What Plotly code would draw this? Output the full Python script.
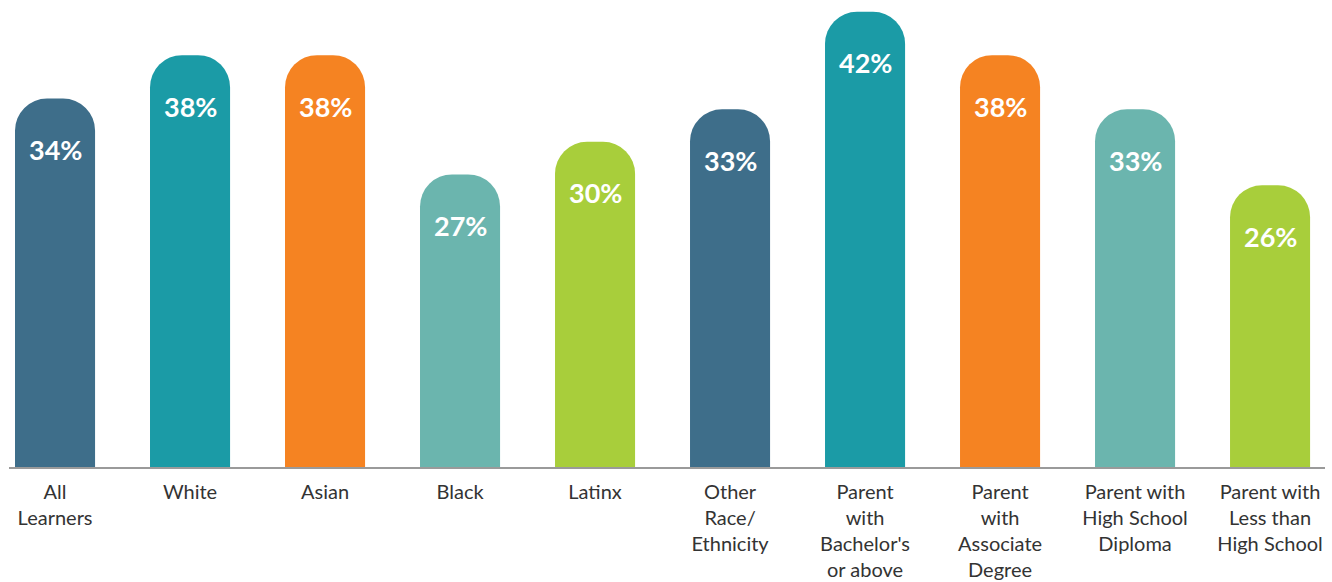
import plotly.graph_objects as go

categories = ["All<br>Learners", "White", "Asian", "Black", "Latinx",
              "Other<br>Race/<br>Ethnicity", "Parent<br>with<br>Bachelor's<br>or above",
              "Parent<br>with<br>Associate<br>Degree", "Parent with<br>High School<br>Diploma",
              "Parent with<br>Less than<br>High School"]
values = [34, 38, 38, 27, 30, 33, 42, 38, 33, 26]
labels = ["34%", "38%", "38%", "27%", "30%", "33%", "42%", "38%", "33%", "26%"]
colors = ["#3e6e8a", "#1b9ba6", "#f58322", "#6bb5ae", "#a8ce3b",
          "#3e6e8a", "#1b9ba6", "#f58322", "#6bb5ae", "#a8ce3b"]

fig = go.Figure()
fig.add_trace(go.Bar(
    x=list(range(len(categories))), y=values,
    marker=dict(color=colors, cornerradius=32, line=dict(width=0)),
    hoverinfo="skip",
))

for i, (v, t) in enumerate(zip(values, labels)):
    fig.add_annotation(x=i, y=v, text=t, showarrow=False, yanchor="middle",
                       yshift=-51, font=dict(family="Lato", size=27, color="white", weight="bold"))

fig.update_layout(
    width=1332, height=582,
    margin=dict(l=9, r=7, t=0, b=115, autoexpand=False),
    paper_bgcolor="white", plot_bgcolor="white",
    bargap=0.407, showlegend=False,
    font=dict(family="Lato", size=20, color="#333333"),
    xaxis=dict(tickmode="array", tickvals=list(range(len(categories))), ticktext=categories,
               range=[-0.341, 9.407], showline=True, linecolor="#9a9a9a", linewidth=2,
               showgrid=False, zeroline=False, ticks="", ticklabelstandoff=6, automargin=False,
               tickfont=dict(family="Lato", size=20, color="#333333")),
    yaxis=dict(range=[0, 43.09], visible=False, showgrid=False, zeroline=False),
)

fig.write_html("out.html", config={"displayModeBar": False},
               post_script="document.body.style.margin='0';document.body.style.overflow='hidden';")
